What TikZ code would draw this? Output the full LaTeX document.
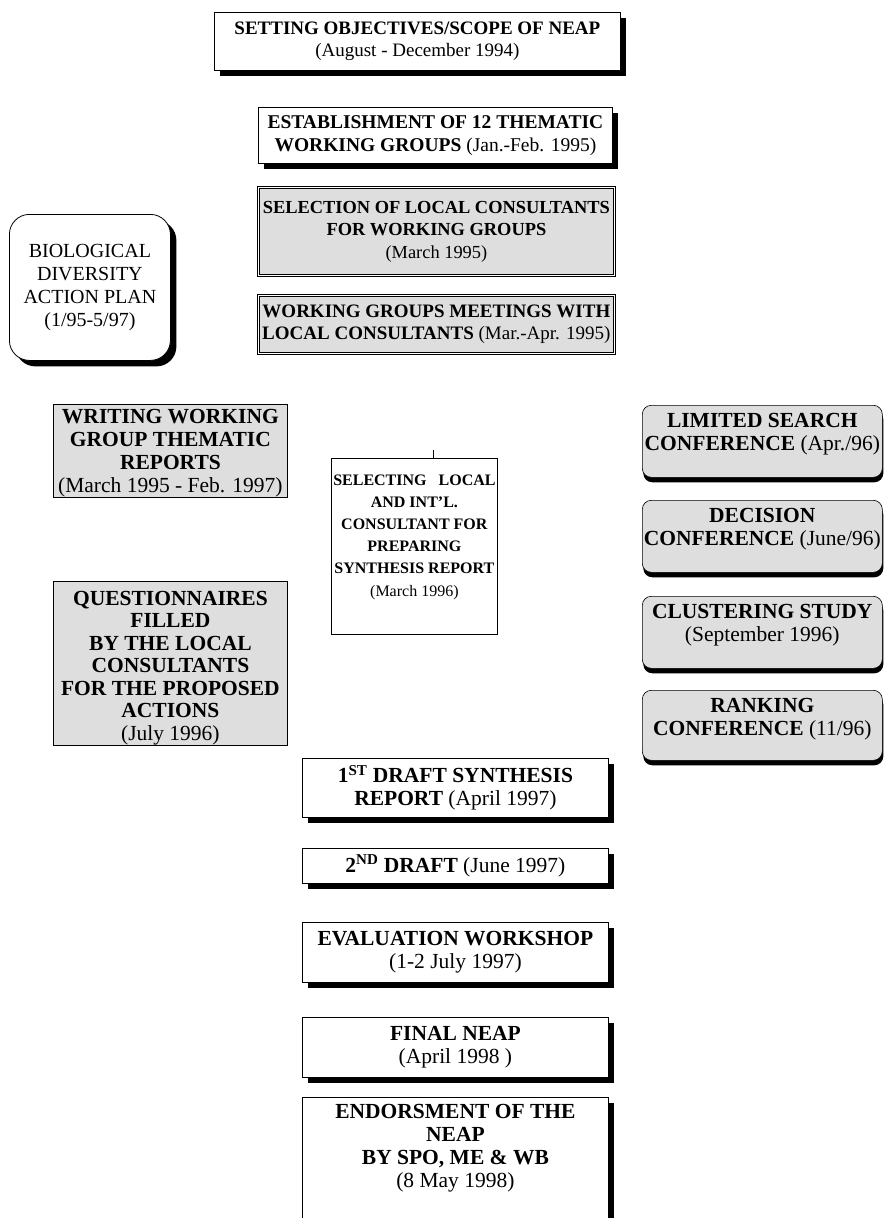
\documentclass[tikz,border=0pt]{standalone}
\usepackage{fontspec}
\setmainfont{Liberation Serif}
\usepackage{tikz}
\usetikzlibrary{shadows}
\definecolor{boxgray}{RGB}{222,222,222}

\begin{document}
\begin{tikzpicture}[x=1pt, y=-1pt,
	font=\fontsize{19}{22.5}\selectfont,
	every node/.style={anchor=north west, align=center, inner sep=0pt},
	largetext/.style={font=\fontsize{21.5}{23}\selectfont},
	smalltext/.style={font=\fontsize{16}{22.2}\selectfont},
	stagebox/.style={draw=black, line width=0.8pt, fill=white,
		drop shadow={shadow xshift=6pt, shadow yshift=-6pt, fill=black, opacity=1}},
	graybox/.style={draw=black, line width=0.8pt, fill=boxgray},
	doublebox/.style={graybox, double=white, double distance=1.2pt},
	sidebox/.style={draw=black, line width=0.6pt, fill=boxgray, rounded corners=9pt, largetext,
		minimum width=240pt, text height=45pt, text depth=27pt,
		drop shadow={shadow xshift=1pt, shadow yshift=-5pt, fill=black, opacity=1}},
	planbox/.style={draw=black, line width=0.8pt, fill=white, rounded corners=20pt,
		drop shadow={shadow xshift=6pt, shadow yshift=-6pt, fill=black, opacity=1}}]
	
	\clip (0,0) rectangle (885,1218);
	
	% main line, top part
	\node[stagebox, minimum width=406pt, minimum height=58pt] (objectives) at (214,12)
		{\textbf{SETTING OBJECTIVES/SCOPE OF NEAP}\\(August - December 1994)};
	\node[stagebox, minimum width=354pt, minimum height=56pt, font=\fontsize{19.5}{22.5}\selectfont] (groups) at (258,107)
		{\textbf{ESTABLISHMENT OF 12 THEMATIC}\\\textbf{WORKING GROUPS} (Jan.-Feb. 1995)};
	\node[doublebox, minimum width=356pt, minimum height=88pt, font=\fontsize{18.4}{22.5}\selectfont] (selection) at (258,187)
		{\textbf{SELECTION OF LOCAL CONSULTANTS}\\\textbf{FOR WORKING GROUPS}\\(March 1995)};
	\node[doublebox, minimum width=356pt, minimum height=58pt] (meetings) at (258,295)
		{\textbf{WORKING GROUPS MEETINGS WITH}\\\textbf{LOCAL CONSULTANTS} (Mar.-Apr. 1995)};
	
	\node[planbox, minimum width=161pt, minimum height=146pt, font=\fontsize{20}{23}\selectfont] (plan) at (9,214)
		{BIOLOGICAL\\DIVERSITY\\ACTION PLAN\\(1/95-5/97)};
	
	% left column
	\node[graybox, largetext, minimum width=234pt, text height=88pt, text depth=5pt] (writing) at (53,404)
		{\textbf{WRITING WORKING}\\\textbf{GROUP THEMATIC}\\\textbf{REPORTS}\\(March 1995 - Feb. 1997)};
	\node[graybox, font=\fontsize{21.5}{22.5}\selectfont, minimum width=234pt, text height=159pt, text depth=5pt] (questions) at (53,581)
		{\textbf{QUESTIONNAIRES}\\\textbf{FILLED}\\\textbf{BY THE LOCAL}\\\textbf{CONSULTANTS}\\\textbf{FOR THE PROPOSED}\\\textbf{ACTIONS}\\(July 1996)};
	
	\node[draw=black, line width=0.8pt, fill=white, smalltext, minimum width=166pt, minimum height=176pt] (consultant) at (331,458)
		{\textbf{SELECTING\ \ \ LOCAL}\\\textbf{AND INT'L.}\\\textbf{CONSULTANT FOR}\\\textbf{PREPARING}\\\textbf{SYNTHESIS REPORT}\\(March 1996)\\\mbox{}};
	\coordinate (tick) at (433,450);
	\draw[line width=0.6pt] (tick) -- (tick |- consultant.north);
	
	% right column
	\node[sidebox] (search) at (642,405)
		{\textbf{LIMITED SEARCH}\\\textbf{CONFERENCE} (Apr./96)};
	\node[sidebox] (decision) at (642,500)
		{\textbf{DECISION}\\\textbf{CONFERENCE} (June/96)};
	\node[sidebox] (clustering) at (642,596)
		{\textbf{CLUSTERING STUDY}\\(September 1996)};
	\node[sidebox, text depth=25pt] (ranking) at (642,690)
		{\textbf{RANKING}\\\textbf{CONFERENCE} (11/96)};
	
	% main line, bottom part
	\node[stagebox, largetext, minimum width=306pt, minimum height=59pt] (draftone) at (302,758)
		{\textbf{1\textsuperscript{ST} DRAFT SYNTHESIS}\\\textbf{REPORT} (April 1997)};
	\node[stagebox, largetext, minimum width=306pt, minimum height=35pt] (drafttwo) at (302,848)
		{\textbf{2\textsuperscript{ND} DRAFT} (June 1997)};
	\node[stagebox, largetext, minimum width=306pt, minimum height=60pt] (workshop) at (302,922)
		{\textbf{EVALUATION WORKSHOP}\\(1-2 July 1997)};
	\node[stagebox, largetext, minimum width=306pt, minimum height=60pt] (final) at (302,1017)
		{\textbf{FINAL NEAP}\\(April 1998 )};
	\node[stagebox, largetext, minimum width=306pt, inner ysep=7pt] (endorse) at (302,1097)
		{\textbf{ENDORSMENT OF THE}\\\textbf{NEAP}\\\textbf{BY SPO, ME \& WB}\\(8 May 1998)\\[30pt]\mbox{}};
	
\end{tikzpicture}
\end{document}
